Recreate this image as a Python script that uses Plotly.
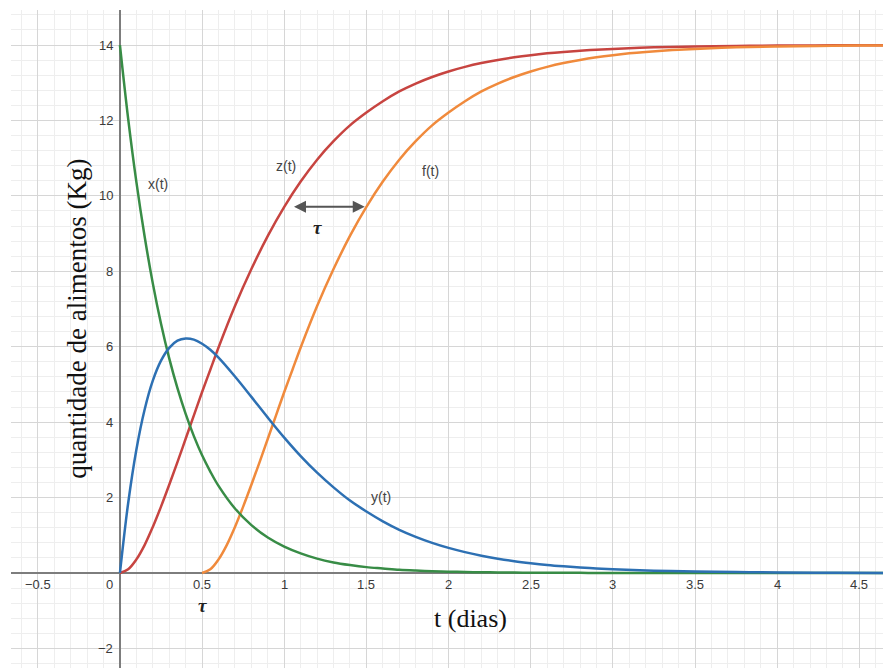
import plotly.graph_objects as go

# Sample times (days) shared by x(t), y(t) and z(t)
t_main = [0, 0.05, 0.1, 0.15, 0.2, 0.25, 0.3, 0.35, 0.4, 0.45, 0.5, 0.55, 0.6,
          0.7, 0.8, 0.9, 1.0, 1.1, 1.2, 1.3, 1.4, 1.5, 1.6, 1.7, 1.8, 1.9,
          2.0, 2.1, 2.2, 2.3, 2.4, 2.5, 2.6, 2.7, 2.8, 2.9, 3.0,
          3.25, 3.5, 3.75, 4.0, 4.35, 4.7]

# Food quantity (kg) in each compartment
x_vals = [14.0, 12.05, 10.37, 8.93, 7.68, 6.61, 5.69, 4.90, 4.22, 3.63, 3.12, 2.69, 2.31,
          1.71, 1.27, 0.94, 0.70, 0.52, 0.38, 0.28, 0.21, 0.155, 0.12, 0.085, 0.063, 0.047,
          0.035, 0.026, 0.019, 0.014, 0.010, 0.008, 0.006, 0.004, 0.003, 0.002, 0.002,
          0.001, 0.0, 0.0, 0.0, 0.0, 0.0]
y_vals = [0.0, 1.85, 3.27, 4.33, 5.10, 5.63, 5.97, 6.16, 6.22, 6.19, 6.08, 5.92, 5.71,
          5.21, 4.67, 4.12, 3.59, 3.10, 2.66, 2.27, 1.92, 1.63, 1.37, 1.145, 0.958, 0.799,
          0.665, 0.553, 0.459, 0.380, 0.314, 0.260, 0.214, 0.177, 0.146, 0.120, 0.099,
          0.06, 0.038, 0.023, 0.014, 0.006, 0.002]
z_vals = [0.0, 0.10, 0.36, 0.74, 1.22, 1.76, 2.34, 2.94, 3.56, 4.18, 4.80, 5.39, 5.98,
          7.08, 8.06, 8.94, 9.71, 10.38, 10.96, 11.45, 11.87, 12.21, 12.51, 12.77, 12.979, 13.154,
          13.30, 13.421, 13.522, 13.606, 13.675, 13.732, 13.78, 13.819, 13.851, 13.878, 13.899,
          13.939, 13.962, 13.977, 13.986, 13.994, 13.998]

# f(t) starts after the delay tau = 0.5 days
t_f = [0.5, 0.55, 0.6, 0.65, 0.7, 0.75, 0.8, 0.85, 0.9, 0.95, 1.0, 1.05, 1.1,
       1.2, 1.3, 1.4, 1.5, 1.6, 1.7, 1.8, 1.9, 2.0, 2.1, 2.2, 2.3, 2.4,
       2.5, 2.6, 2.7, 2.8, 2.9, 3.0, 3.1, 3.2, 3.3, 3.4, 3.5,
       3.75, 4.0, 4.25, 4.5, 4.7]
f_vals = [0.0, 0.10, 0.36, 0.74, 1.22, 1.76, 2.34, 2.94, 3.56, 4.18, 4.80, 5.39, 5.98,
          7.08, 8.06, 8.94, 9.71, 10.38, 10.96, 11.45, 11.87, 12.21, 12.51, 12.77, 12.979, 13.154,
          13.30, 13.421, 13.522, 13.606, 13.675, 13.732, 13.78, 13.819, 13.851, 13.878, 13.899,
          13.939, 13.962, 13.977, 13.986, 13.991]

tau = 0.5

# Tick labels drawn next to the axes
x_tick_vals = [-0.5, 0.5, 1, 1.5, 2, 2.5, 3, 3.5, 4, 4.5]
x_tick_text = ["\u22120.5", "0.5", "1", "1.5", "2", "2.5", "3", "3.5", "4", "4.5"]
y_tick_vals = [-2, 2, 4, 6, 8, 10, 12, 14]
y_tick_text = ["\u22122", "2", "4", "6", "8", "10", "12", "14"]

# Curve names and where they are written
curve_names = ["x(t)", "z(t)", "f(t)", "y(t)"]
curve_label_t = [0.23, 1.01, 1.89, 1.59]
curve_label_q = [10.32, 10.79, 10.66, 2.02]

GREEN = "#388c46"
BLUE = "#2d70b3"
RED = "#c74440"
ORANGE = "#f08a3c"

fig = go.Figure()
line_common = dict(width=2.5, shape="spline", smoothing=1.0)
fig.add_trace(go.Scatter(x=t_main, y=z_vals, mode="lines", line=dict(color=RED, **line_common),
                         hoverinfo="skip", name="z(t)"))
fig.add_trace(go.Scatter(x=t_f, y=f_vals, mode="lines", line=dict(color=ORANGE, **line_common),
                         hoverinfo="skip", name="f(t)"))
fig.add_trace(go.Scatter(x=t_main, y=x_vals, mode="lines", line=dict(color=GREEN, **line_common),
                         hoverinfo="skip", name="x(t)"))
fig.add_trace(go.Scatter(x=t_main, y=y_vals, mode="lines", line=dict(color=BLUE, **line_common),
                         hoverinfo="skip", name="y(t)"))

label_font = dict(family="Liberation Sans, Arial, sans-serif", size=13, color="#3a3a3a")
annotations = []
for v, s in zip(x_tick_vals, x_tick_text):
    annotations.append(dict(x=v, y=0, text=s, showarrow=False, font=label_font, borderpad=0,
                            xanchor="center", yanchor="middle", yshift=-12))
annotations.append(dict(x=0, y=0, text="0", showarrow=False, font=label_font, borderpad=0,
                        xanchor="right", yanchor="middle", xshift=-6, yshift=-12))
for v, s in zip(y_tick_vals, y_tick_text):
    annotations.append(dict(x=0, y=v, text=s, showarrow=False, font=label_font, borderpad=0,
                            xanchor="right", yanchor="middle", xshift=-6))

name_font = dict(family="Liberation Sans, Arial, sans-serif", size=14, color="#444444")
for s, tx, qy in zip(curve_names, curve_label_t, curve_label_q):
    annotations.append(dict(x=tx, y=qy, text=s, showarrow=False, font=name_font,
                            xanchor="center", yanchor="middle"))

# Delay arrow between z(t) and f(t)
arrow_level = 9.71
annotations.append(dict(x=1.0 + tau - 0.01, y=arrow_level, ax=1.0 + 0.05, ay=arrow_level,
                        xref="x", yref="y", axref="x", ayref="y", text="",
                        showarrow=True, arrowhead=2, arrowside="end+start",
                        arrowsize=1.2, arrowwidth=2, arrowcolor="#555555"))
tau_font = dict(family="Liberation Serif, Times New Roman, serif", size=19, color="#222222")
annotations.append(dict(x=1.205, y=9.15, text="<b><i>\u03c4</i></b>", showarrow=False,
                        font=tau_font, xanchor="center", yanchor="middle", borderpad=0))
annotations.append(dict(x=tau, y=0, text="<b><i>\u03c4</i></b>", showarrow=False, borderpad=0,
                        font=tau_font, xanchor="center", yanchor="top", yshift=-21))

# Axis titles
annotations.append(dict(x=2.136, y=-1.22, text="t (dias)", showarrow=False,
                        font=dict(family="Liberation Serif, Times New Roman, serif", size=26, color="#111111"),
                        xanchor="center", yanchor="middle"))
annotations.append(dict(x=-0.262, y=6.74, text="quantidade de alimentos (Kg)", showarrow=False,
                        textangle=-90,
                        font=dict(family="Liberation Serif, Times New Roman, serif", size=27, color="#111111"),
                        xanchor="center", yanchor="middle"))

axis_common = dict(showticklabels=False, ticks="", showline=False, zeroline=True,
                   zerolinecolor="#7d7d7d", zerolinewidth=2, gridcolor="#d6d6d6", gridwidth=1)
fig.update_layout(
    width=883, height=668,
    margin=dict(l=11, r=0, t=10, b=0),
    paper_bgcolor="white", plot_bgcolor="white",
    showlegend=False,
    xaxis=dict(range=[-0.663, 4.644], dtick=0.5, tick0=0,
               minor=dict(dtick=0.1, showgrid=True, gridcolor="#eeeeee", gridwidth=1),
               **axis_common),
    yaxis=dict(range=[-2.52, 14.93], dtick=2, tick0=0,
               minor=dict(dtick=0.4, showgrid=True, gridcolor="#eeeeee", gridwidth=1),
               **axis_common),
    annotations=annotations,
)

fig.write_html("out.html")
